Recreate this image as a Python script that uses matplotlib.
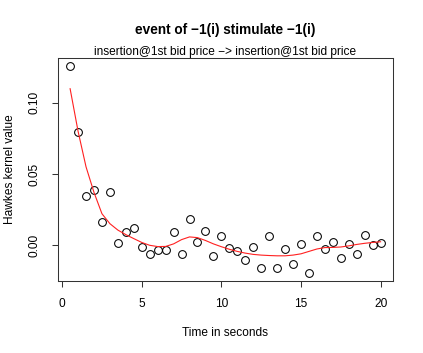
import numpy as np
import matplotlib
matplotlib.use('Agg')
import matplotlib.pyplot as plt

plt.rc('font', family=['Liberation Sans', 'DejaVu Sans'])

# data
times = [0.5, 1.0, 1.5, 2.0, 2.5, 3.0, 3.5, 4.0, 4.5, 5.0,
         5.5, 6.0, 6.5, 7.0, 7.5, 8.0, 8.5, 9.0, 9.5, 10.0,
         10.5, 11.0, 11.5, 12.0, 12.5, 13.0, 13.5, 14.0, 14.5, 15.0,
         15.5, 16.0, 16.5, 17.0, 17.5, 18.0, 18.5, 19.0, 19.5, 20.0]
kernel_est = [0.126, 0.0798, 0.0343, 0.0387, 0.0162, 0.0376, 0.0016, 0.0092, 0.0122, -0.0012,
              -0.0061, -0.0038, -0.0035, 0.0089, -0.0066, 0.0185, 0.0023, 0.0101, -0.0080, 0.0061,
              -0.0021, -0.0042, -0.0106, -0.0014, -0.0162, 0.0061, -0.0162, -0.0026, -0.0134, 0.0007,
              -0.0195, 0.0066, -0.0028, 0.0019, -0.0092, 0.0005, -0.0063, 0.0073, 0.0000, 0.0012]
kernel_fit = [0.110, 0.080, 0.055, 0.037, 0.022, 0.015, 0.0105, 0.0073, 0.0045, 0.0018,
              -0.0002, -0.0011, -0.0010, 0.0008, 0.0038, 0.0057, 0.0052, 0.0032, 0.0008, -0.0012,
              -0.0030, -0.0045, -0.0057, -0.0066, -0.0071, -0.0074, -0.0076, -0.0076, -0.0071, -0.0062,
              -0.0045, -0.0028, -0.0018, -0.0017, -0.0014, -0.0006, 0.0004, 0.0012, 0.0018, 0.0023]

title = 'event of \u22121(i) stimulate \u22121(i)'
subtitle = 'insertion@1st bid price \u2212> insertion@1st bid price'
x_ticks = [0, 5, 10, 15, 20]
y_ticks = [0.00, 0.05, 0.10]

fig = plt.figure(figsize=(4.23, 3.53), dpi=100)
ax = fig.add_axes([0.1364, 0.204, 0.7927, 0.6325])

ax.plot(times, kernel_est, 'o', mfc='none', mec='black', ms=5.6, mew=0.75)
ax.plot(times, kernel_fit, color='#ff2020', lw=0.8)

# R style 4% padding
xr = max(times) - min(times)
ax.set_xlim(min(times) - 0.04 * xr, max(times) + 0.04 * xr)
yall = kernel_est + kernel_fit
yr = max(yall) - min(yall)
ax.set_ylim(min(yall) - 0.04 * yr, max(yall) + 0.04 * yr)

ax.set_xticks(x_ticks)
ax.set_xticklabels([str(t) for t in x_ticks])
ax.set_yticks(y_ticks)
ax.set_yticklabels(['%.2f' % t for t in y_ticks], rotation=90, va='center')
ax.tick_params(direction='out', length=4.5, width=0.75, labelsize=8.6, pad=8, color='#333333')
for s in ax.spines.values():
    s.set_linewidth(0.75)
    s.set_color('#333333')

ax.set_xlabel('Time in seconds', fontsize=8.6, labelpad=12)
ax.set_ylabel('Hawkes kernel value', fontsize=8.6, va='center')
ax.yaxis.set_label_coords(-0.142, 0.5)

fig.text(0.533, 0.915, title, ha='center', va='center', fontsize=9.8, fontweight='bold')
fig.text(0.533, 0.853, subtitle, ha='center', va='center', fontsize=8.6)

fig.savefig('out.png', dpi=100)
